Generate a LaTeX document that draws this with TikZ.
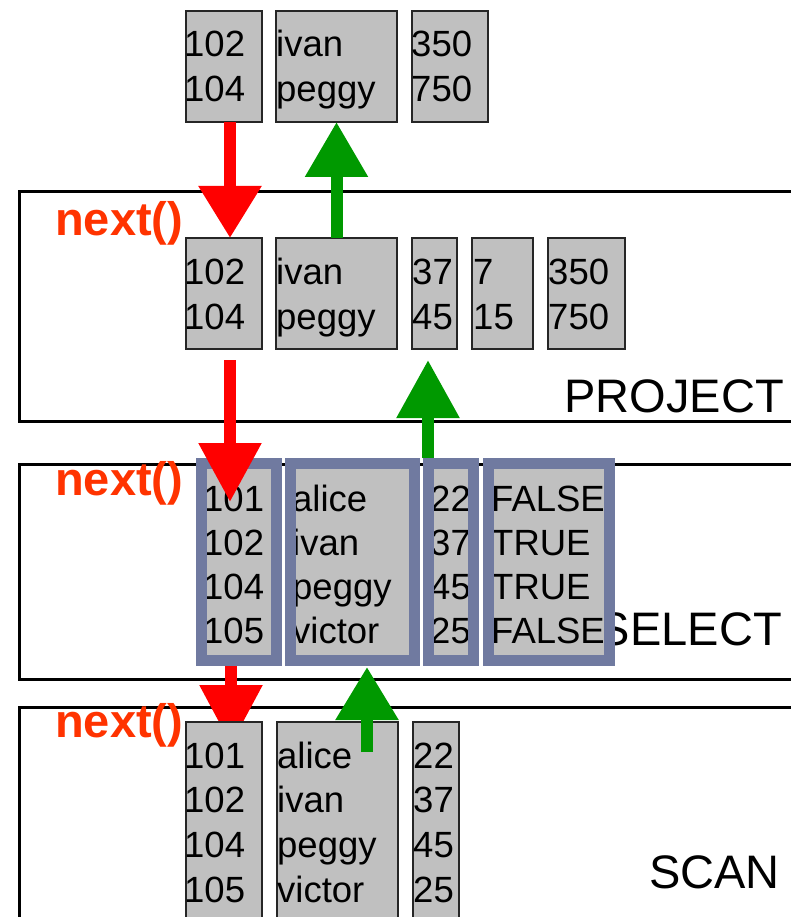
\documentclass[tikz,border=0pt]{standalone}
\usepackage{fontspec}
\setmainfont{Liberation Sans}
\usetikzlibrary{arrows.meta}
\definecolor{cellgray}{RGB}{192,192,192}
\definecolor{framebl}{RGB}{112,122,160}
\definecolor{callred}{RGB}{255,51,0}
\definecolor{arrred}{RGB}{255,0,0}
\definecolor{arrgreen}{RGB}{0,153,0}

% one column of values, one named node per value
\newcommand\stackcells[5]{%
  \foreach \t [count=\i] in {#5} \node[cell] (#1-\i) at (#2,{#3+#4*(\i-1)}) {\t};}

\begin{document}
\begin{tikzpicture}[x=1pt,y=-1pt,
  opbox/.style={draw=black,line width=3pt},
  oplabel/.style={anchor=base east,inner sep=0pt,font=\fontsize{47}{56}\selectfont},
  callnext/.style={anchor=base west,inner sep=0pt,text=callred,font=\bfseries\fontsize{47}{56}\selectfont},
  colbox/.style={draw=black!85,line width=1.5pt,fill=cellgray,anchor=north west,inner sep=0pt,outer sep=0pt},
  cell/.style={anchor=base west,inner sep=0pt,font=\fontsize{36.5}{44}\selectfont},
  selcol/.style={fill=cellgray,anchor=north west,inner sep=0pt,outer sep=0pt,minimum height=197pt},
  selframe/.style={draw=framebl,line width=11pt},
  flowdown/.style={draw=arrred,line width=12pt,-{Triangle[width=60pt,length=#1]}},
  flowup/.style={draw=arrgreen,line width=12pt,-{Triangle[width=60pt,length=#1]}},
]
\useasboundingbox (0,0) rectangle (791,917);
\clip (0,0) rectangle (791,917);

% operator boxes
\draw[opbox] (19,192) rectangle (820,421);
\draw[opbox] (19,464) rectangle (820,679);
\draw[opbox] (19,707) rectangle (820,918);

\node[oplabel] (lproj) at (784,412) {PROJECT};
\node[oplabel] (lsel)  at (782,645) {SELECT};
\node[oplabel] (lscan) at (780,888) {SCAN};

\node[callnext] (n1) at (55,235) {next()};
\node[callnext] (n2) at (55,495) {next()};
\node[callnext] (n3) at (55,737) {next()};

% result columns on top
\node[colbox,minimum width=76pt,minimum height=111pt]  (t1) at (186,11) {};
\node[colbox,minimum width=121pt,minimum height=111pt] (t2) at (276,11) {};
\node[colbox,minimum width=76pt,minimum height=111pt]  (t3) at (412,11) {};
\stackcells{tc1}{184}{57}{45}{102,104}
\stackcells{tc2}{276}{57}{45}{ivan,peggy}
\stackcells{tc3}{411}{57}{45}{350,750}

% PROJECT columns
\node[colbox,minimum width=76pt,minimum height=111pt]  (p1) at (186,238) {};
\node[colbox,minimum width=121pt,minimum height=111pt] (p2) at (276,238) {};
\node[colbox,minimum width=45pt,minimum height=111pt]  (p3) at (412,238) {};
\node[colbox,minimum width=61pt,minimum height=111pt]  (p4) at (472,238) {};
\node[colbox,minimum width=77pt,minimum height=111pt]  (p5) at (548,238) {};
\stackcells{pc1}{184}{284}{45}{102,104}
\stackcells{pc2}{276}{284}{45}{ivan,peggy}
\stackcells{pc3}{412}{284}{45}{37,45}
\stackcells{pc4}{473}{284}{45}{7,15}
\stackcells{pc5}{548}{284}{45}{350,750}

% SELECT columns, framed
\node[selcol,minimum width=75pt]  (s1) at (201.5,463.5) {};
\node[selcol,minimum width=124pt] (s2) at (290.5,463.5) {};
\node[selcol,minimum width=45pt]  (s3) at (428.5,463.5) {};
\node[selcol,minimum width=121pt] (s4) at (488.5,463.5) {};
\stackcells{sc1}{203}{511}{44.3}{101,102,104,105}
\stackcells{sc2}{292}{511}{44.3}{alice,ivan,peggy,victor}
\stackcells{sc3}{430}{511}{44.3}{22,37,45,25}
\stackcells{sc4}{491}{511}{44.3}{FALSE,TRUE,TRUE,FALSE}
\foreach \s in {s1,s2,s3,s4}
  \draw[selframe] (\s.north west) rectangle (\s.south east);

% next() calls flowing down
\coordinate (scanhead) at (231,745);
\draw[flowdown=52pt] ([xshift=6pt]t1.south) -- ([xshift=6pt]p1.north);
\draw[flowdown=59pt] ([xshift=6pt,yshift=-11pt]p1.south) -- ([xshift=-9pt,yshift=-38.5pt]s1.north);
\draw[flowdown=60pt] ([xshift=-8pt,yshift=-5.5pt]s1.south) -- (scanhead);

% SCAN columns
\node[colbox,minimum width=76pt,minimum height=196pt]  (c1) at (186,722) {};
\node[colbox,minimum width=121pt,minimum height=196pt] (c2) at (277,722) {};
\node[colbox,minimum width=46pt,minimum height=196pt]  (c3) at (413,722) {};
\stackcells{cc1}{184}{768}{44.7}{101,102,104,105}
\stackcells{cc2}{277}{768}{44.7}{alice,ivan,peggy,victor}
\stackcells{cc3}{413}{768}{44.7}{22,37,45,25}

% tuples flowing up
\draw[flowup=55pt] (p2.north) -- (t2.south);
\draw[flowup=58pt] ([xshift=-23pt,yshift=5.5pt]s3.north) -- ([xshift=-6.5pt,yshift=-11pt]p3.south);
\draw[flowup=53pt] ([xshift=29.5pt,yshift=-30pt]c2.north) -- ([xshift=14.5pt,yshift=-6.5pt]s2.south);
\end{tikzpicture}
\end{document}
